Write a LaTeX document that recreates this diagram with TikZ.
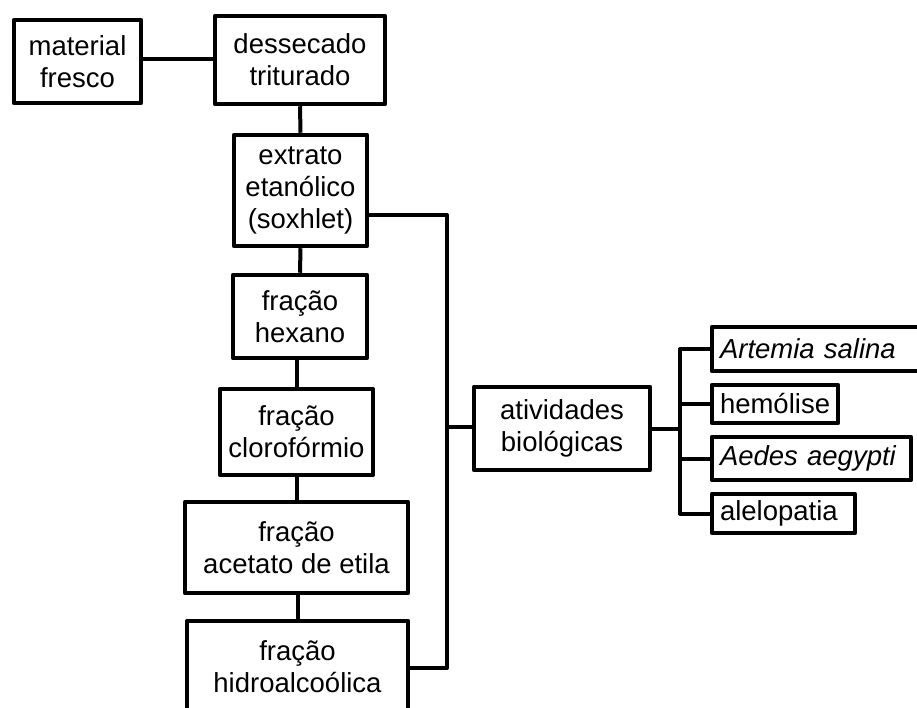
\documentclass[tikz,border=0pt]{standalone}
\usepackage{fontspec}
\setmainfont{Liberation Sans}
\begin{document}
\begin{tikzpicture}[x=1pt,y=-1pt,
  box/.style={draw, line width=4.5pt, line join=round, align=center, inner sep=0pt,
    font=\fontsize{27.5}{32}\selectfont},
  lbox/.style={draw, line width=4.5pt, line join=round, align=left, inner ysep=0pt, inner xsep=8pt,
    font=\fontsize{27.5}{32}\selectfont},
  conn/.style={line width=4pt}]
\useasboundingbox (0,0) rectangle (917,708);
\clip (0,0) rectangle (917,708);
% main column
\node[box, minimum width=127pt, minimum height=83pt] (mat) at (77.5,61.5) {material\\fresco};
\node[box, minimum width=170pt, minimum height=88pt] (des) at (300,60) {dessecado\\triturado};
\node[box, minimum width=133pt, minimum height=111pt] (ext) at (300.5,190.5) {extrato\\etanólico\\(soxhlet)};
\node[box, minimum width=134pt, minimum height=83pt] (hex) at (300,316.5) {fração\\hexano};
\node[box, minimum width=153pt, minimum height=86pt] (clo) at (296.5,432) {fração\\clorofórmio};
\node[box, minimum width=223pt, minimum height=91pt] (ace) at (296.5,547.5) {fração\\acetato de etila};
\node[box, minimum width=221pt, minimum height=91pt] (hid) at (297.5,666.5) {fração\\hidroalcoólica};
% activities
\node[box, minimum width=176pt, minimum height=83pt] (ati) at (562,428.5) {atividades\\biológicas};
\node[lbox, text width=197pt, minimum height=44pt] (art) at (818.5,349) {\itshape Artemia salina};
\node[lbox, text width=110pt, minimum height=38pt] (hem) at (775,404) {hemólise};
\node[lbox, text width=183pt, minimum height=43pt] (aed) at (811.5,458.5) {\itshape Aedes aegypti};
\node[lbox, text width=127pt, minimum height=39pt] (ale) at (783.5,513.5) {alelopatia};
% helper coordinates
\coordinate (vtop) at (447,215);
\coordinate (vbot) at (447,668);
\coordinate (vmid) at (447,427);
\coordinate (btop) at (680,349);
\coordinate (bbot) at (680,513.5);
% connectors
\draw[conn] (mat.east |- 0,59) -- (des.west |- 0,59);
\draw[conn] (des.south) -- (ext.north);
\draw[conn] (ext.south) -- (hex.north);
\draw[conn] (clo.north |- hex.south) -- (clo.north);
\draw[conn] (clo.south) -- (ace.north);
\draw[conn] (ace.south) -- (hid.north |- ace.south) -- (hid.north);
\draw[conn, line join=round] (ext.east |- vtop) -- (vtop) -- (vbot) -- (hid.east |- vbot);
\draw[conn] (vmid) -- (ati.west |- vmid);
\draw[conn] (ati.east) -- (ati.east -| btop);
\draw[conn, line join=round] (art.west) -| (btop) -- (bbot) |- (ale.west);
\draw[conn] (hem.west) -- (hem.west -| btop);
\draw[conn] (aed.west) -- (aed.west -| btop);
\end{tikzpicture}
\end{document}
